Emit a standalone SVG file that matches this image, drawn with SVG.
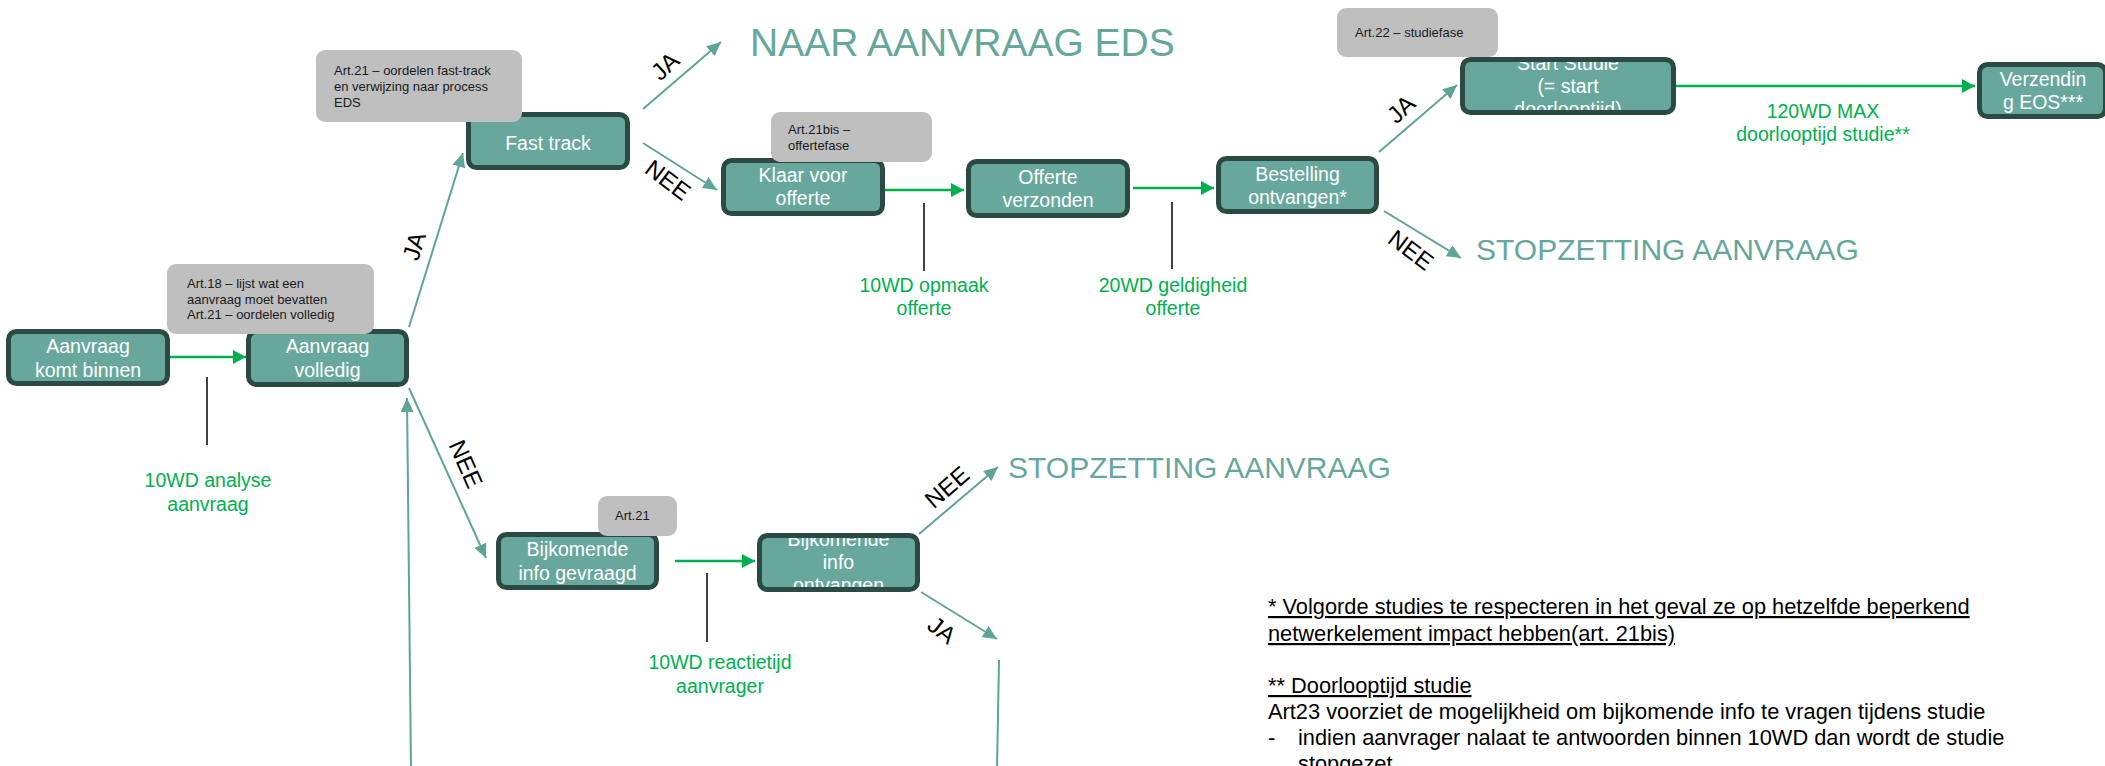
<svg xmlns="http://www.w3.org/2000/svg" width="2105" height="766" viewBox="0 0 2105 766">
  <style>
    .bf { fill: #68a89c; }
    .bl { fill: none; stroke: #2b4a43; stroke-width: 5; }
    .nt { font-family: "Liberation Sans", Arial, sans-serif; font-size: 19.5px; fill: #ffffff; text-anchor: middle; }
    .note { fill: #bfbfbf; }
    .nn { font-family: "Liberation Sans", Arial, sans-serif; font-size: 13px; fill: #1a1a1a; }
    .teal { fill: none; stroke: #5fa497; stroke-width: 2; }
    .grn { fill: none; stroke: #00b050; stroke-width: 2.5; }
    .tick { fill: none; stroke: #111111; stroke-width: 1.6; }
    .lbl { font-family: "Liberation Sans", Arial, sans-serif; font-size: 24px; fill: #000000; text-anchor: middle; }
    .gt { font-family: "Liberation Sans", Arial, sans-serif; font-size: 19.5px; fill: #00b050; text-anchor: middle; }
    .big { font-family: "Liberation Sans", Arial, sans-serif; fill: #66a79b; }
    .fn { font-family: "Liberation Sans", Arial, sans-serif; font-size: 21.8px; fill: #000000; }
    .ul { text-decoration: underline; }
  </style>
  <defs>
    <marker id="ah-teal" markerUnits="userSpaceOnUse" markerWidth="15" markerHeight="13" refX="14" refY="6.5" orient="auto">
      <path d="M0,0 L14,6.5 L0,13 z" fill="#5fa497"/>
    </marker>
    <marker id="ah-green" markerUnits="userSpaceOnUse" markerWidth="14" markerHeight="14" refX="13" refY="7" orient="auto">
      <path d="M0,0 L13,7 L0,14 z" fill="#00b050"/>
    </marker>
  </defs>

  <!-- connectors -->
  <g id="connectors">
    <line class="grn" x1="170" y1="357" x2="246" y2="357" marker-end="url(#ah-green)"/>
    <line class="grn" x1="885" y1="190" x2="964" y2="190" marker-end="url(#ah-green)"/>
    <line class="grn" x1="1133" y1="188" x2="1214" y2="188" marker-end="url(#ah-green)"/>
    <line class="grn" x1="1676" y1="86" x2="1975" y2="86" marker-end="url(#ah-green)"/>
    <line class="grn" x1="675" y1="561" x2="755" y2="561" marker-end="url(#ah-green)"/>

    <line class="tick" x1="207" y1="377" x2="207" y2="445"/>
    <line class="tick" x1="924" y1="203" x2="924" y2="271"/>
    <line class="tick" x1="1172" y1="202" x2="1172" y2="269"/>
    <line class="tick" x1="707" y1="573" x2="707" y2="642"/>

    <line class="teal" x1="409" y1="327" x2="463" y2="153" marker-end="url(#ah-teal)"/>
    <line class="teal" x1="409" y1="388" x2="486" y2="558" marker-end="url(#ah-teal)"/>
    <line class="teal" x1="411" y1="770" x2="407" y2="398" marker-end="url(#ah-teal)"/>
    <line class="teal" x1="643" y1="109" x2="721" y2="42" marker-end="url(#ah-teal)"/>
    <line class="teal" x1="643" y1="143" x2="717" y2="190" marker-end="url(#ah-teal)"/>
    <line class="teal" x1="1379" y1="152" x2="1457" y2="85" marker-end="url(#ah-teal)"/>
    <line class="teal" x1="1384" y1="211" x2="1461" y2="258" marker-end="url(#ah-teal)"/>
    <line class="teal" x1="919" y1="534" x2="998" y2="467" marker-end="url(#ah-teal)"/>
    <line class="teal" x1="921" y1="592" x2="997" y2="639" marker-end="url(#ah-teal)"/>
    <line class="teal" x1="999" y1="660" x2="997" y2="770"/>

    <!-- branch labels -->
    <text class="lbl" x="414" y="246" dy="0.35em" transform="rotate(-73 414 246)">JA</text>
    <text class="lbl" x="466" y="464" dy="0.35em" transform="rotate(66 466 464)">NEE</text>
    <text class="lbl" x="665" y="66" dy="0.35em" transform="rotate(-43 665 66)">JA</text>
    <text class="lbl" x="668" y="180" dy="0.35em" transform="rotate(37 668 180)">NEE</text>
    <text class="lbl" x="1401" y="109" dy="0.35em" transform="rotate(-43 1401 109)">JA</text>
    <text class="lbl" x="1411" y="250" dy="0.35em" transform="rotate(37 1411 250)">NEE</text>
    <text class="lbl" x="947" y="487" dy="0.35em" transform="rotate(-41 947 487)">NEE</text>
    <text class="lbl" x="942" y="630" dy="0.35em" transform="rotate(38 942 630)">JA</text>

    <!-- durations -->
    <text class="gt" x="208" y="487">10WD analyse<tspan x="208" y="511">aanvraag</tspan></text>
    <text class="gt" x="924" y="292">10WD opmaak<tspan x="924" y="315">offerte</tspan></text>
    <text class="gt" x="1173" y="292">20WD geldigheid<tspan x="1173" y="315">offerte</tspan></text>
    <text class="gt" x="1823" y="118">120WD MAX<tspan x="1823" y="141">doorlooptijd studie**</tspan></text>
    <text class="gt" x="720" y="669">10WD reactietijd<tspan x="720" y="693">aanvrager</tspan></text>
  </g>

  <!-- process steps -->
  <g id="aanvraag-komt-binnen">
    <rect class="bf" x="8.5" y="331.5" width="159" height="52" rx="8"/>
    <text class="nt" x="88" y="353">Aanvraag<tspan x="88" y="377">komt binnen</tspan></text>
    <rect class="bl" x="8.5" y="331.5" width="159" height="52" rx="8"/>
  </g>
  <g id="aanvraag-volledig">
    <rect class="bf" x="248.5" y="331.5" width="158" height="53" rx="8"/>
    <text class="nt" x="327.5" y="353">Aanvraag<tspan x="327.5" y="377">volledig</tspan></text>
    <rect class="bl" x="248.5" y="331.5" width="158" height="53" rx="8"/>
  </g>
  <g id="fast-track">
    <rect class="bf" x="468.5" y="114.5" width="159" height="53" rx="8"/>
    <text class="nt" x="548" y="150">Fast track</text>
    <rect class="bl" x="468.5" y="114.5" width="159" height="53" rx="8"/>
  </g>
  <g id="klaar-voor-offerte">
    <rect class="bf" x="723.5" y="160.5" width="159" height="53" rx="8"/>
    <text class="nt" x="803" y="182">Klaar voor<tspan x="803" y="205">offerte</tspan></text>
    <rect class="bl" x="723.5" y="160.5" width="159" height="53" rx="8"/>
  </g>
  <g id="offerte-verzonden">
    <rect class="bf" x="968.5" y="161.5" width="159" height="54" rx="8"/>
    <text class="nt" x="1048" y="184">Offerte<tspan x="1048" y="207">verzonden</tspan></text>
    <rect class="bl" x="968.5" y="161.5" width="159" height="54" rx="8"/>
  </g>
  <g id="bestelling-ontvangen">
    <rect class="bf" x="1218.5" y="158.5" width="158" height="53" rx="8"/>
    <text class="nt" x="1297.5" y="181">Bestelling<tspan x="1297.5" y="204">ontvangen*</tspan></text>
    <rect class="bl" x="1218.5" y="158.5" width="158" height="53" rx="8"/>
  </g>
  <g id="start-studie">
    <rect class="bf" x="1462.5" y="59.5" width="211" height="53" rx="8"/>
    <text class="nt" x="1568" y="70">Start Studie<tspan x="1568" y="93">(= start</tspan><tspan x="1568" y="116">doorlooptijd)</tspan></text>
    <rect class="bl" x="1462.5" y="59.5" width="211" height="53" rx="8"/>
  </g>
  <g id="verzending-eos">
    <rect class="bf" x="1979.5" y="64.5" width="126" height="52" rx="8"/>
    <text class="nt" x="2043" y="86">Verzendin<tspan x="2043" y="109">g EOS***</tspan></text>
    <rect class="bl" x="1979.5" y="64.5" width="126" height="52" rx="8"/>
  </g>
  <g id="bijkomende-info-gevraagd">
    <rect class="bf" x="498.5" y="534.5" width="158" height="53" rx="8"/>
    <text class="nt" x="577.5" y="556">Bijkomende<tspan x="577.5" y="580">info gevraagd</tspan></text>
    <rect class="bl" x="498.5" y="534.5" width="158" height="53" rx="8"/>
  </g>
  <g id="bijkomende-info-ontvangen">
    <rect class="bf" x="759.5" y="535.5" width="158" height="54" rx="8"/>
    <text class="nt" x="838.5" y="546">Bijkomende<tspan x="838.5" y="569">info</tspan><tspan x="838.5" y="592">ontvangen</tspan></text>
    <rect class="bl" x="759.5" y="535.5" width="158" height="54" rx="8"/>
  </g>

  <!-- article notes -->
  <g id="note-art18">
    <rect class="note" x="167" y="264" width="207" height="70" rx="9"/>
    <text class="nn" x="187" y="288">Art.18 – lijst wat een<tspan x="187" y="304">aanvraag moet bevatten</tspan><tspan x="187" y="319">Art.21 – oordelen volledig</tspan></text>
  </g>
  <g id="note-art21-fasttrack">
    <rect class="note" x="316" y="50" width="206" height="72" rx="9"/>
    <text class="nn" x="334" y="75">Art.21 – oordelen fast-track<tspan x="334" y="91">en verwijzing naar process</tspan><tspan x="334" y="107">EDS</tspan></text>
  </g>
  <g id="note-art21bis">
    <rect class="note" x="771" y="112" width="161" height="50" rx="9"/>
    <text class="nn" x="788" y="134">Art.21bis –<tspan x="788" y="150">offertefase</tspan></text>
  </g>
  <g id="note-art22">
    <rect class="note" x="1337" y="8" width="161" height="49" rx="9"/>
    <text class="nn" x="1355" y="37">Art.22 – studiefase</text>
  </g>
  <g id="note-art21">
    <rect class="note" x="598" y="496" width="79" height="40" rx="9"/>
    <text class="nn" x="615" y="520">Art.21</text>
  </g>

  <!-- outcomes -->
  <g id="naar-aanvraag-eds">
    <text class="big" x="750" y="56" font-size="39">NAAR AANVRAAG EDS</text>
  </g>
  <g id="stopzetting-offerte">
    <text class="big" x="1476" y="260" font-size="30">STOPZETTING AANVRAAG</text>
  </g>
  <g id="stopzetting-info">
    <text class="big" x="1008" y="478" font-size="30">STOPZETTING AANVRAAG</text>
  </g>

  <!-- footnotes -->
  <g id="footnotes">
    <text class="fn ul" x="1268" y="614">* Volgorde studies te respecteren in het geval ze op hetzelfde beperkend</text>
    <text class="fn ul" x="1268" y="641">netwerkelement impact hebben(art. 21bis)</text>
    <text class="fn ul" x="1268" y="693">** Doorlooptijd studie</text>
    <text class="fn" x="1268" y="719">Art23 voorziet de mogelijkheid om bijkomende info te vragen tijdens studie</text>
    <text class="fn" x="1268" y="745">-</text>
    <text class="fn" x="1298" y="745">indien aanvrager nalaat te antwoorden binnen 10WD dan wordt de studie</text>
    <text class="fn" x="1298" y="771">stopgezet</text>
  </g>
</svg>
